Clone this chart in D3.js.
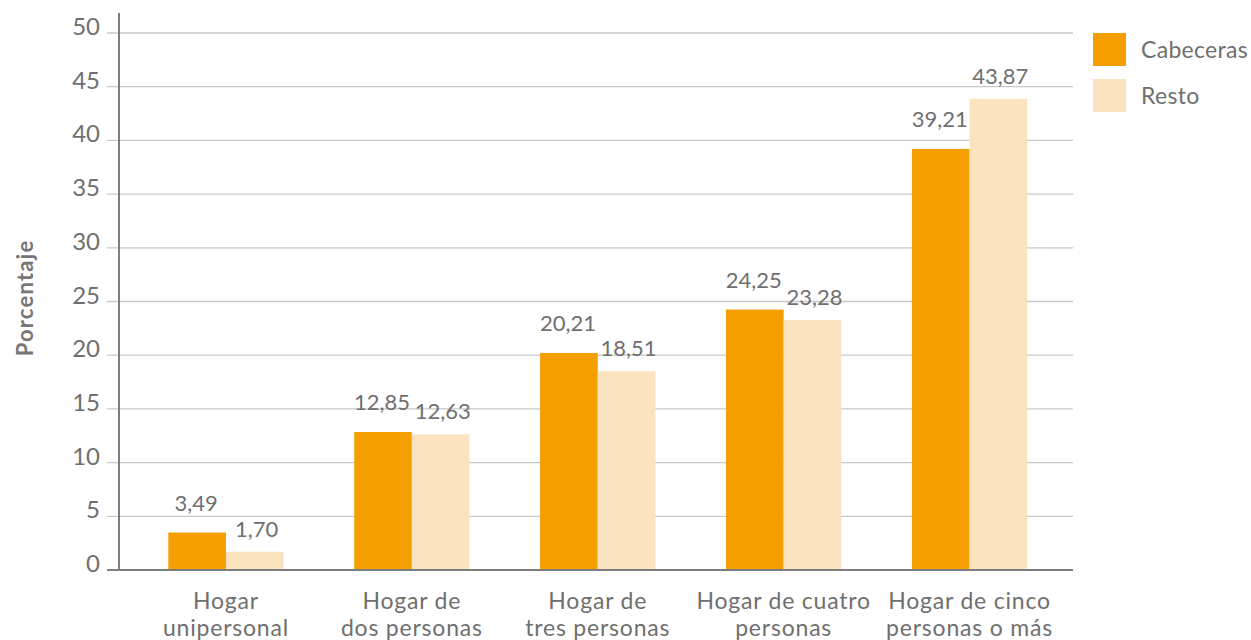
<!DOCTYPE html>
<html><head><meta charset="utf-8">
<script src="https://cdn.jsdelivr.net/npm/d3@7"></script>
<style>body{margin:0;background:#fff}svg{display:block}text{font-family:Lato,"Open Sans",sans-serif}</style>
</head><body>
<script>
const categories = [["Hogar","unipersonal"],["Hogar de","dos personas"],["Hogar de","tres personas"],["Hogar de cuatro","personas"],["Hogar de cinco","personas o más"]];
const seriesNames = ["Cabeceras","Resto"];
const cabeceras = [3.49, 12.85, 20.21, 24.25, 39.21];
const resto = [1.70, 12.63, 18.51, 23.28, 43.87];
const yTicks = [0,5,10,15,20,25,30,35,40,45,50];
const colors = ["#F59E00","#FCE3C0"];

(function(){
const W = 1251, H = 640;
const svg = d3.select("body").append("svg").attr("width", W).attr("height", H);
const mLeft = 119, mRight = 1073, mBottom = 570, mTop = 33;
const txt = "#6f6f6f";
const keys = categories.map(c => c.join(" "));
const x0 = d3.scaleBand().domain(keys).range([133, 1062.5]).paddingInner(0.38).paddingOuter(0.19);
const x1 = d3.scaleBand().domain(seriesNames).range([0, x0.bandwidth()]);
const y = d3.scaleLinear().domain([0, 50]).range([mBottom, mTop]);

svg.append("g").selectAll("line").data(yTicks.filter(t => t > 0)).join("line")
  .attr("x1", 107).attr("x2", mRight).attr("y1", d => y(d)).attr("y2", d => y(d))
  .attr("stroke", "#c8c8c8").attr("stroke-width", 1.3);
svg.append("g").selectAll("text").data(yTicks).join("text")
  .attr("x", 100).attr("y", d => y(d) + 2)
  .attr("text-anchor", "end").attr("font-size", 24).attr("fill", txt)
  .text(d => d);

const data = [cabeceras, resto];
const g = svg.append("g");
seriesNames.forEach((s, si) => {
  g.selectAll(".b" + si).data(data[si]).join("rect").attr("class", "b" + si)
    .attr("x", (d, i) => x0(keys[i]) + x1(s)).attr("width", x1.bandwidth())
    .attr("y", d => y(d)).attr("height", d => mBottom - y(d)).attr("fill", colors[si]);
  g.selectAll(".l" + si).data(data[si]).join("text").attr("class", "l" + si)
    .attr("x", (d, i) => x0(keys[i]) + x1(s) + x1.bandwidth() / 2 + (si === 0 ? -1 : 2))
    .attr("y", d => y(d) - (si === 0 ? 22 : 15))
    .attr("text-anchor", "middle").attr("font-size", 22).attr("fill", txt)
    .text(d => d.toFixed(2).replace(".", ","));
});

svg.append("line").attr("x1", mLeft).attr("x2", mLeft).attr("y1", 13).attr("y2", mBottom + 1)
  .attr("stroke", "#7d7d7d").attr("stroke-width", 2);
svg.append("line").attr("x1", 107).attr("x2", mRight).attr("y1", mBottom).attr("y2", mBottom)
  .attr("stroke", "#7d7d7d").attr("stroke-width", 2);

categories.forEach((c, i) => {
  const cx = x0(keys[i]) + x0.bandwidth() / 2;
  const t = svg.append("text").attr("text-anchor", "middle").attr("font-size", 23).attr("fill", txt)
    .attr("letter-spacing", "0.8px").attr("x", cx).attr("y", 609);
  c.forEach((line, j) => t.append("tspan").attr("x", cx).attr("dy", j === 0 ? 0 : 27).text(line));
});

svg.append("text").attr("transform", "translate(33,298) rotate(-90)").attr("text-anchor", "middle")
  .attr("font-size", 22).attr("font-weight", "bold").attr("letter-spacing", "1.2px").attr("fill", "#767676").text("Porcentaje");

seriesNames.forEach((s, i) => {
  svg.append("rect").attr("x", 1093).attr("y", 33 + i * 46).attr("width", 33).attr("height", 33).attr("fill", colors[i]);
  svg.append("text").attr("x", 1141).attr("y", 58 + i * 46).attr("font-size", 23).attr("letter-spacing", "0.3px").attr("fill", txt).text(s);
});
})();
</script>
</body></html>
